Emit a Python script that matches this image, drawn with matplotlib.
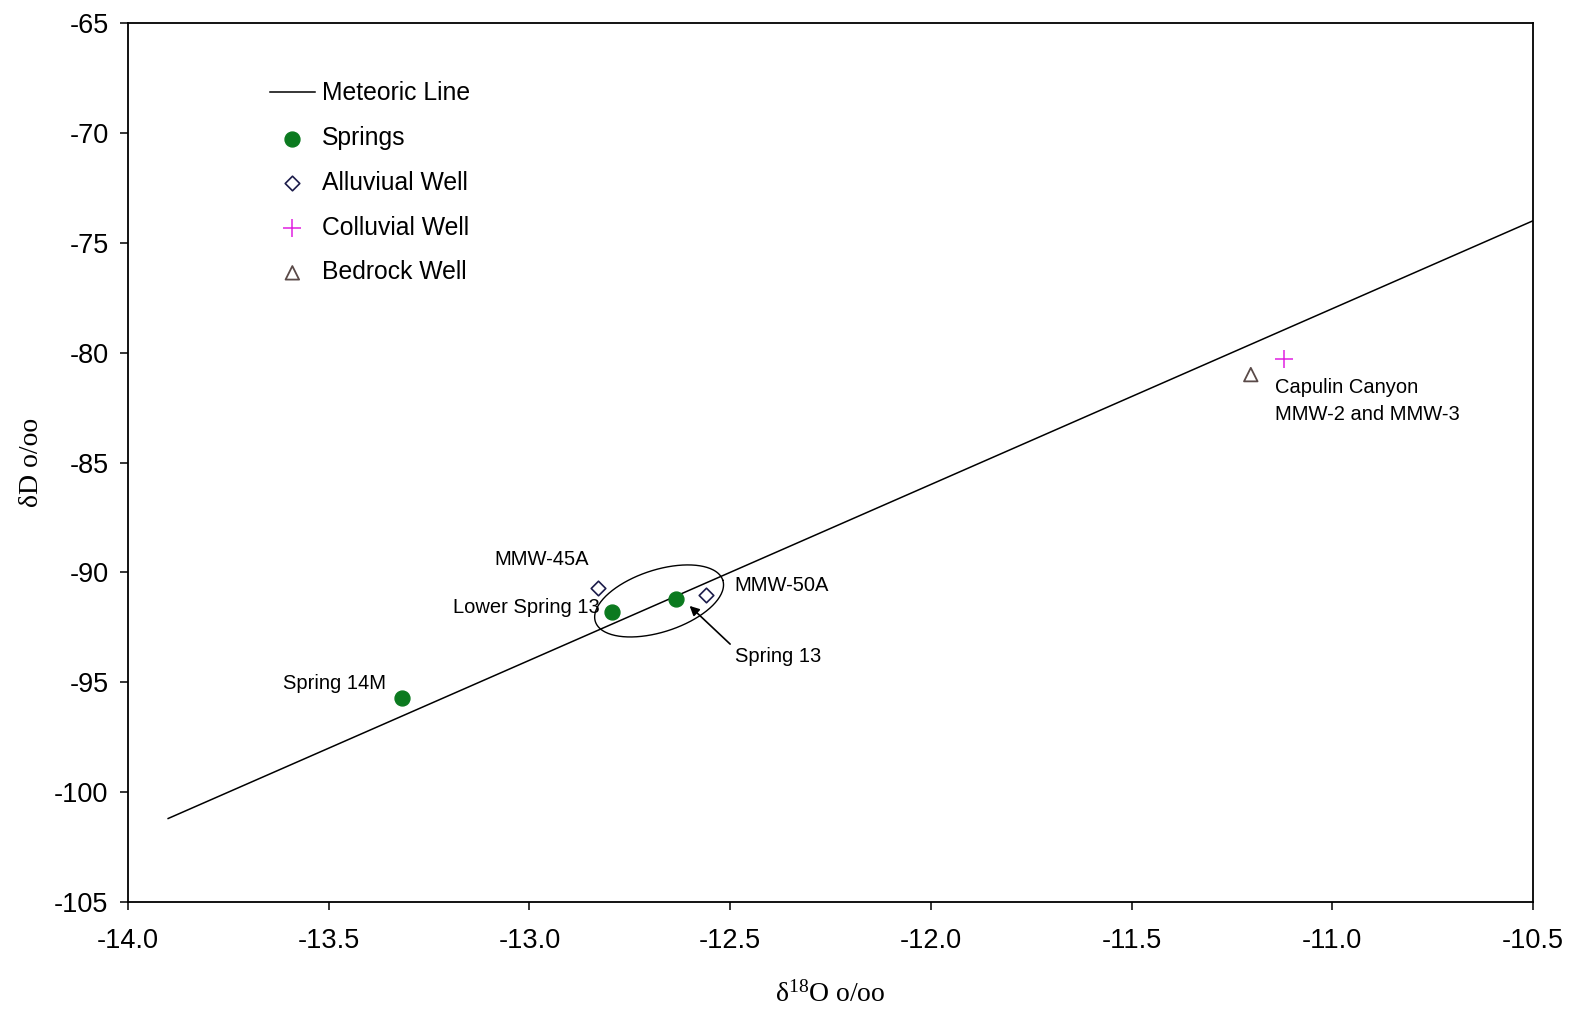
import numpy as np
import matplotlib
matplotlib.use("Agg")
import matplotlib.pyplot as plt

plt.rcParams["mathtext.fontset"] = "custom"
plt.rcParams["mathtext.rm"] = "Liberation Serif"
plt.rcParams["mathtext.it"] = "Liberation Serif"
plt.rcParams["mathtext.default"] = "regular"

# ---- data ----
meteoric_x = [-13.9, -10.5]
meteoric_y = [8 * x + 10 for x in meteoric_x]

springs_names = ["Spring 14M", "Lower Spring 13", "Spring 13"]
springs_x = [-13.317, -12.794, -12.636]
springs_y = [-95.72, -91.79, -91.19]

alluvial_names = ["MMW-45A", "MMW-50A"]
alluvial_x = [-12.829, -12.559]
alluvial_y = [-90.69, -91.01]

colluvial_x = [-11.12]
colluvial_y = [-80.27]

bedrock_x = [-11.203]
bedrock_y = [-81.0]

xticks = [-14.0, -13.5, -13.0, -12.5, -12.0, -11.5, -11.0, -10.5]
yticks = [-105, -100, -95, -90, -85, -80, -75, -70, -65]

sans = ["Liberation Sans", "DejaVu Sans"]
serif = ["Liberation Serif", "DejaVu Serif"]

W, H = 1575, 1013
fig = plt.figure(figsize=(W / 100, H / 100), dpi=100)
ax = fig.add_axes([128 / W, 1 - 902 / H, (1533 - 128) / W, (902 - 23) / H])

ax.plot(meteoric_x, meteoric_y, color="black", lw=1.1, label="Meteoric Line")
ax.scatter(springs_x, springs_y, s=115, color="#0b7a1f", edgecolors="#0b7a1f", zorder=3, label="Springs")
ax.scatter(alluvial_x, alluvial_y, s=55, marker="D", facecolors="white", edgecolors="#1c1c4a",
           linewidths=1.2, zorder=3, label="Alluviual Well")
ax.scatter(colluvial_x, colluvial_y, s=150, marker="+", color="#e020e0", linewidths=1.1, zorder=3,
           label="Colluvial Well")
ax.scatter(bedrock_x, bedrock_y, s=95, marker="^", facecolors="none", edgecolors="#5a4a48",
           linewidths=1.3, zorder=3, label="Bedrock Well")

ax.set_xlim(-14, -10.5)
ax.set_ylim(-105, -65)
ax.set_xticks(xticks)
ax.set_xticklabels([f"{v:.1f}" for v in xticks])
ax.set_yticks(yticks)
ax.set_yticklabels([str(v) for v in yticks])
ax.tick_params(direction="out", length=6, width=1.1, labelsize=19.5)
ax.tick_params(axis="x", pad=13)
ax.tick_params(axis="y", pad=8)
for lab in ax.get_xticklabels() + ax.get_yticklabels():
    lab.set_family(sans)
for sp in ax.spines.values():
    sp.set_linewidth(1.3)

ax.set_xlabel("δ$^{18}$O o/oo", family=serif, fontsize=20, labelpad=19)
ax.set_ylabel("δD o/oo", family=serif, fontsize=20, labelpad=7)

leg = ax.legend(loc="upper left", bbox_to_anchor=(0.0941, 0.945), frameon=False,
                prop={"family": sans, "size": 17.8}, handlelength=1.8, handletextpad=0.3,
                labelspacing=0.84, borderaxespad=0, markerscale=1.0)

fs = 14.5
ax.text(springs_x[0] - 0.04, springs_y[0] + 0.68, springs_names[0], ha="right", va="center", family=sans, fontsize=fs)
ax.text(springs_x[1] - 0.03, springs_y[1] + 0.19, springs_names[1], ha="right", va="center", family=sans, fontsize=fs)
ax.text(alluvial_x[0] - 0.14, alluvial_y[0] + 1.28, alluvial_names[0], ha="center", va="center", family=sans, fontsize=fs)
ax.text(alluvial_x[1] + 0.07, alluvial_y[1] + 0.39, alluvial_names[1], ha="left", va="center", family=sans, fontsize=fs)
ax.text(-12.488, -93.83, springs_names[2], ha="left", va="center", family=sans, fontsize=fs)
ax.annotate("", xy=(springs_x[2] + 0.03, springs_y[2] - 0.25), xytext=(-12.495, -93.35),
            arrowprops=dict(arrowstyle="-|>", color="black", lw=1.2, mutation_scale=14))
ax.text(colluvial_x[0] - 0.022, -82.2, "Capulin Canyon\nMMW-2 and MMW-3", ha="left", va="center",
        family=sans, fontsize=fs, linespacing=1.5)

# ellipse around Spring 13 group, drawn in display space
cx, cy = -12.677, -91.30
t = np.linspace(0, 2 * np.pi, 240)
a, b, ang = 67, 31, np.deg2rad(18)
fig.canvas.draw()
pc = ax.transData.transform((cx, cy))
ex = pc[0] + a * np.cos(t) * np.cos(ang) - b * np.sin(t) * np.sin(ang)
ey = pc[1] + a * np.cos(t) * np.sin(ang) + b * np.sin(t) * np.cos(ang)
pts = ax.transData.inverted().transform(np.column_stack([ex, ey]))
ax.plot(pts[:, 0], pts[:, 1], color="black", lw=1.0)

fig.savefig("out.png", dpi=100, facecolor="white")
